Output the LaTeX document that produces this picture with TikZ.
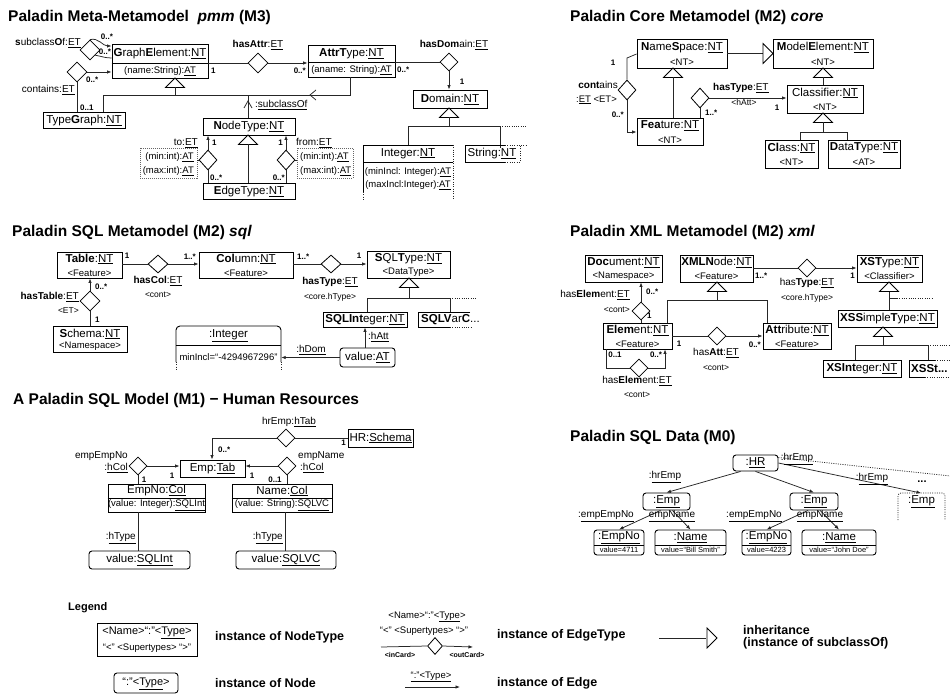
\documentclass[tikz,border=0pt]{standalone}
\usepackage{fontspec}
\setmainfont{Liberation Sans}
\usetikzlibrary{arrows.meta,shapes.geometric}
\newcommand\fsz[1]{\fontsize{#1}{#1}\selectfont}
\newcommand\un[1]{\underline{#1}}
\tikzset{
  bx/.style={draw=black, line width=0.9pt, inner sep=0pt},
  rbx/.style={bx, rounded corners=3pt},
  dbx/.style={draw=black!60, line width=0.6pt, dash pattern=on 1pt off 1pt, inner sep=0pt},
  tm/.style={inner sep=0pt, font=\fsz{11.5}},
  ta/.style={inner sep=0pt, font=\fsz{9.5}},
  tl/.style={inner sep=0pt, font=\fsz{10}},
  ts/.style={inner sep=0pt, font=\fsz{8.5}},
  tc/.style={inner sep=0pt, font=\bfseries\fsz{8}},
  ttl/.style={inner sep=0pt, anchor=west, font=\bfseries\fsz{15.5}},
  tlg/.style={inner sep=0pt, anchor=west, font=\bfseries\fsz{12.5}},
  dia/.style={shape=diamond, draw=black, fill=white, line width=0.8pt, inner sep=0pt, minimum width=20, minimum height=20},
  ln/.style={draw=black!85, line width=0.75pt},
  arr/.style={ln, -{Latex[length=4.5pt,width=3.5pt]}},
  dln/.style={draw=black!85, line width=0.75pt, dash pattern=on 1pt off 1.3pt},
  tri/.style={draw=black, line width=0.8pt, fill=white},
}
\newcommand\boxat[6][bx]{\node[#1, minimum width={#5-#3}, minimum height={#6-#4}] (#2) at ({(#3+#5)/2},{(#4+#6)/2}) {};}
\newcommand\uptri[2]{\draw[tri] (#1,#2) -- ++(-9.5,9.5) -- ++(19,0) -- cycle;}
\newcommand\rtri[2]{\draw[tri] (#1,#2) -- ++(-10,-10) -- ++(0,20) -- cycle;}
\begin{document}
\begin{tikzpicture}[x=1pt,y=-1pt]
\useasboundingbox (0,0) rectangle (950,695);
% ================= M3 =================
\node[ttl] (t3) at (8,17) {Paladin Meta-Metamodel\ \ \textit{pmm} (M3)};
\boxat{ge}{112}{44}{208}{78}
\draw[bx] (ge.west |- 0,63) -- (ge.east |- 0,63);
\node[tm] (geT) at (160,53.5) {\textbf{G}raph\textbf{E}lement:\un{NT}};
\node[ta] (geA) at (160,71) {(name:String):\un{AT}};
\node[dia] (sc) at (90,50) {};
\node[tl,anchor=east] (scL) at (81,43) {\textbf{s}ubclass\textbf{O}f:\un{ET}};
\node[tc] (sc1) at (107,37) {0..*};
\node[tc] (sc2) at (105,52) {0..*};
\draw[arr] (sc.north) to[out=15,in=180] (ge.west |- 0,46);
\draw[ln] (sc.south east) to[out=-10,in=180] (ge.west |- 0,58);
\node[dia] (ct) at (77,72) {};
\node[tc,anchor=west] (ct1) at (86,80) {0..*};
\node[tl,anchor=east] (ctL) at (75,90) {contains:\un{ET}};
\node[tc,anchor=west] (ct2) at (80,108) {0..1};
\draw[arr] (ct.east) -- (ge.west |- ct.east);
\boxat{tg}{43}{112}{125}{128}
\node[tm] (tgT) at (84,120.5) {Type\textbf{G}raph:\un{NT}};
\draw[ln] (ct.south) -- (tg.north -| ct.south);
\boxat{at}{308}{45}{395}{77}
\draw[bx] (at.west |- 0,62) -- (at.east |- 0,62);
\node[tm] (atT) at (351.5,54) {\textbf{AttrT}ype:\un{NT}};
\node[ta] (atA) at (351.5,70) {(aname: String):\un{AT}};
\uptri{175}{78}
\draw[ln] (175,87.5) -- (175,95);
\draw[ln] (tg.north -| 103,0) -- (103,95) -- (350,95) -- (at.south -| 350,0);
\draw[ln] (316,90) -- (310,95) -- (316,100);
\node[tc,anchor=east] (at1) at (306,71) {0..*};
\node[tc,anchor=west] (ge1) at (211,71) {1};
\node[dia] (ha) at (258,63) {};
\node[tl] (haL) at (258,45) {\textbf{hasAttr}:\un{ET}};
\draw[ln] (ge.east |- ha.west) -- (ha.west);
\draw[arr] (ha.east) -- (at.west |- ha.east);
\node[tc,anchor=west] (at2) at (397,70) {0..*};
\node[dia,minimum width=18,minimum height=18] (hd) at (449,62) {};
\node[tl] (hdL) at (454,45) {\textbf{hasDom}ain:\un{ET}};
\boxat{dm}{413}{90}{487}{108}
\node[tm] (dmT) at (450,99.5) {\textbf{D}omain:\un{NT}};
\node[tc] (hd1) at (462,82) {1};
\draw[ln] (at.east |- hd.west) -- (hd.west);
\draw[arr] (hd.south) -- (hd.south |- dm.north);
\uptri{449}{108}
\draw[ln] (449,117.5) -- (449,126);
\node[tm, minimum width=90, minimum height=17] (int) at (408,153.5) {Integer:\un{NT}};
\node[tm] (str) at (492,153.5) {String:\un{NT}};
\draw[ln] (int.north -| 408,0) -- (408,126) -- (500,126) -- (str.north -| 500,0);
\draw[dln] (500,126) -- (527,126);
\draw[bx] (363,192) -- (363,145) -- (453,145);
\draw[bx] (363,162) -- (453,162);
\draw[dln] (363,192) -- (363,199);
\draw[dln] (453,145) -- (453,199);
\node[ta] (intA) at (408,172) {(minIncl: Integer):\un{AT}};
\node[ta] (intB) at (408,185) {(maxIncl:Integer):\un{AT}};
\draw[bx] (505,145) -- (465,145) -- (465,162) -- (505,162);
\draw[dln] (505,145) -- (527,145);
\draw[dln] (505,162) -- (520,162) -- (520,145);
% NodeType / EdgeType
\boxat{nt}{203}{118}{295}{135}
\node[tm] (ntT) at (249,127) {\textbf{N}odeType:\un{NT}};
\boxat{et}{203}{183}{295}{199}
\node[tm] (etT) at (249,191.5) {\textbf{E}dgeType:\un{NT}};
\uptri{248}{135}
\draw[ln] (248,144.5) -- (et.north -| 248,0);
\draw[ln] (nt.north -| 248,0) -- (248,95);
\draw[ln] (244,108) -- (248,101) -- (252,108);
\node[tl,anchor=west] (scI) at (255,105) {:\un{subclassOf}};
\node[dia,minimum width=18] (to) at (208,160) {};
\draw[arr] (to.north) -- (to.north |- nt.south);
\draw[ln] (to.south) -- (to.south |- et.north);
\node[tc,anchor=west] (to1) at (212,143) {1};
\node[tl,anchor=east] (toL) at (198,143) {to:\un{ET}};
\node[tc,anchor=west] (to2) at (210,178) {0..*};
\boxat[dbx]{toA}{140}{148}{197}{178}
\node[ta,anchor=east] (toA1) at (194,157.5) {(min:int):\un{AT}};
\node[ta,anchor=east] (toA2) at (194,171) {(max:int):\un{AT}};
\draw[ln] (toA.east |- to.west) -- (to.west);
\node[dia,minimum width=18] (fr) at (286,160) {};
\draw[arr] (fr.north) -- (fr.north |- nt.south);
\draw[ln] (fr.south) -- (fr.south |- et.north);
\node[tc,anchor=east] (fr1) at (283,143) {1};
\node[tl,anchor=west] (frL) at (296,143) {from:\un{ET}};
\node[tc,anchor=east] (fr2) at (285,178) {0..*};
\boxat[dbx]{frA}{297}{148}{353}{178}
\node[ta,anchor=west] (frA1) at (300,157.5) {(min:int):\un{AT}};
\node[ta,anchor=west] (frA2) at (300,171) {(max:int):\un{AT}};
\draw[ln] (fr.east) -- (frA.west |- fr.east);
% ================= core =================
\node[ttl] (tcore) at (570,17) {Paladin Core Metamodel (M2) \textit{core}};
\boxat{ns}{637}{39}{727}{68}
\node[tm] (nsT) at (682,47.5) {\textbf{N}ame\textbf{S}pace:\un{NT}};
\node[ta] (nsS) at (682,62) {<NT>};
\boxat{me}{773}{39}{873}{68}
\node[tm] (meT) at (823,47.5) {\textbf{M}odel\textbf{E}lement:\un{NT}};
\node[ta] (meS) at (823,62) {<NT>};
\boxat{cl}{787}{85}{863}{113}
\node[tm] (clT) at (825,93) {Classifier:\un{NT}};
\node[ta] (clS) at (825,107.5) {<NT>};
\boxat{cs}{765}{140}{818}{168}
\node[tm] (csT) at (791.5,148) {\textbf{Cl}ass:\un{NT}};
\node[ta] (csS) at (791.5,162.5) {<NT>};
\boxat{dt}{828}{140}{900}{168}
\node[tm] (dtT) at (864,148) {\textbf{D}ata\textbf{T}ype:\un{NT}};
\node[ta] (dtS) at (864,162.5) {<AT>};
\boxat{ft}{637}{118}{703}{145}
\node[tm] (ftT) at (670,126) {\textbf{Fea}ture:\un{NT}};
\node[ta] (ftS) at (670,140) {<NT>};
\draw[ln] (ns.east) -- (763,53.5);
\rtri{773}{53.5}
\uptri{823}{68}
\draw[ln] (823,77.5) -- (cl.north -| 823,0);
\uptri{823}{113}
\draw[ln] (823,122.5) -- (823,132);
\draw[ln] (cs.north -| 800,0) |- (847,132) -- (dt.north -| 847,0);
\uptri{673}{68}
\draw[ln] (673,77.5) -- (ft.north -| 673,0);
\node[dia,minimum width=18] (cn) at (627,90) {};
\draw[ln] (cn.north) -- (627,58) -- (ns.west |- 0,54);
\draw[arr] (cn.south) |- (ft.west |- 0,132);
\node[tc] (cn1) at (613,63) {1};
\node[tc,anchor=east] (cn2) at (624,115) {0..*};
\node[tl,anchor=east] (cnL) at (618,85) {\textbf{cont}ains};
\node[ta,anchor=east] (cnL2) at (617,100) {:\un{ET} <ET>};
\node[dia,minimum width=18] (ht) at (700,98) {};
\draw[ln] (ht.south) -- (ft.north -| ht.south);
\draw[arr] (ht.east) -- (cl.west |- ht.east);
\node[tc,anchor=west] (ht1) at (705,113) {1..*};
\node[tl,anchor=west] (htL) at (713,88) {\textbf{hasType}:\un{ET}};
\node[ts] (htS) at (744,102) {<hAtt>};
\node[tc] (ht2) at (777,108) {1};
% ================= SQL =================
\node[ttl] (tsql) at (12,232) {Paladin SQL Metamodel (M2) \textit{sql}};
\boxat{tb}{57}{252}{122}{278}
\node[tm] (tbT) at (89.5,259) {\textbf{Table}:\un{NT}};
\node[ta] (tbS) at (89.5,273) {<Feature>};
\boxat{co}{199}{252}{293}{278}
\node[tm] (coT) at (246,259) {\textbf{Col}umn:\un{NT}};
\node[ta] (coS) at (246,273) {<Feature>};
\boxat{sq}{367}{251}{450}{278}
\node[tm] (sqT) at (408.5,258.5) {\textbf{S}QL\textbf{T}ype:\un{NT}};
\node[ta] (sqS) at (408.5,272.5) {<DataType>};
\node[dia,minimum height=18] (hc) at (158,264) {};
\draw[ln] (tb.east |- hc.west) -- (hc.west);
\draw[arr] (hc.east) -- (co.west |- hc.east);
\node[tc] (hc1) at (127,256) {1};
\node[tc,anchor=east] (hc2) at (196,257) {1..*};
\node[tl] (hcL) at (158,281) {\textbf{hasCol}:\un{ET}};
\node[ts] (hcS) at (158,295) {<cont>};
\node[dia,minimum height=18] (hy) at (331,264) {};
\draw[ln] (co.east |- hy.west) -- (hy.west);
\draw[arr] (hy.east) -- (sq.west |- hy.east);
\node[tc,anchor=west] (hy1) at (297,257) {1..*};
\node[tc] (hy2) at (359,256) {1};
\node[tl] (hyL) at (330,282) {\textbf{hasType}:\un{ET}};
\node[ts] (hyS) at (330,297) {<core.hType>};
\boxat{si}{323}{312}{407}{327}
\node[tm] (siT) at (365,319.5) {\textbf{SQLInt}eger:\un{NT}};
\node[tm,anchor=west] (sv) at (421,319.5) {\textbf{SQLV}ar\textbf{C}...};
\draw[bx] (470,312) -- (418,312) -- (418,327) -- (450,327);
\draw[dln] (450,327) -- (472,327);
\uptri{409}{278}
\draw[ln] (409,287.5) -- (409,298);
\draw[ln] (si.north -| 367,0) |- (450,298) -- (450,312);
\draw[dln] (450,298) -- (476,298);
\boxat[rbx]{va}{340}{348}{395}{367}
\node[tm] (vaT) at (367.5,357.5) {value:\un{AT}};
\draw[arr] (va.north -| 365,0) -- (si.south -| 365,0);
\node[tl,anchor=west] (vaL) at (368,337) {:\un{hAtt}};
\node[inner sep=0, minimum width=105, minimum height=44] (igb) at (228.5,348) {};
\draw[bx,rounded corners=4pt] (176,362) -- (176,326) -- (281,326) -- (281,362);
\draw[bx] (176,345) -- (281,345);
\draw[dln] (176,362) -- (176,371);
\draw[dln] (281,362) -- (281,371);
\node[tm] (igT) at (228.5,336) {:\un{Integer}};
\node[ta] (igA) at (228.5,357) {minIncl=“-4294967296”};
\draw[arr] (va.west) -- (igb.east |- va.west);
\node[tl] (vaD) at (311,350) {:\un{hDom}};
\boxat{sh}{53}{326}{127}{352}
\node[tm] (shT) at (90,334) {\textbf{S}chema:\un{NT}};
\node[ta] (shS) at (90,346.5) {<Namespace>};
\node[dia] (hb) at (90,301) {};
\draw[arr] (hb.north) -- (tb.south -| hb.north);
\draw[ln] (hb.south) -- (sh.north -| hb.south);
\node[tc,anchor=west] (hb1) at (95,287) {0..*};
\node[tc,anchor=west] (hb2) at (95,320) {1};
\node[tl,anchor=east] (hbL) at (79,297) {\textbf{hasTable}:\un{ET}};
\node[ts,anchor=east] (hbS) at (79,311) {<ET>};
% ================= XML =================
\node[ttl] (txml) at (570,232) {Paladin XML Metamodel (M2) \textit{xml}};
\boxat{dc}{585}{255}{662}{282}
\node[tm] (dcT) at (623.5,262.5) {\textbf{Doc}ument:\un{NT}};
\node[ta] (dcS) at (623.5,276.5) {<Namespace>};
\boxat{xn}{680}{255}{753}{282}
\node[tm] (xnT) at (716.5,262.5) {\textbf{XMLN}ode:\un{NT}};
\node[ta] (xnS) at (716.5,276.5) {<Feature>};
\boxat{xs}{857}{255}{922}{282}
\node[tm] (xsT) at (889.5,262.5) {\textbf{XST}ype:\un{NT}};
\node[ta] (xsS) at (889.5,276.5) {<Classifier>};
\node[dia,minimum width=18,minimum height=18] (xh) at (807,268) {};
\draw[ln] (xn.east |- xh.west) -- (xh.west);
\draw[arr] (xh.east) -- (xs.west |- xh.east);
\node[tc,anchor=west] (xh1) at (755,276) {1..*};
\node[tc,anchor=east] (xh2) at (855,276) {1};
\node[tl] (xhL) at (807,283) {has\textbf{Type}:\un{ET}};
\node[ts] (xhS) at (807,298) {<core.hType>};
\boxat{xss}{838}{310}{937}{327}
\node[tm] (xssT) at (887.5,318.5) {\textbf{XSS}imple\textbf{T}ype:\un{NT}};
\uptri{889}{282}
\draw[ln] (889,291.5) -- (xss.north -| 889,0);
\draw[ln] (889,298) -- (897,298);
\draw[dln] (897,298) -- (933,298);
\boxat{xi}{823}{360}{901}{377}
\node[tm] (xiT) at (862,368.5) {\textbf{XSInt}eger:\un{NT}};
\uptri{883}{327}
\draw[ln] (883,336.5) -- (883,345);
\draw[ln] (xi.north -| 855,0) |- (928,345) -- (928,360);
\draw[dln] (928,345) -- (950,345);
\draw[bx] (935,360) -- (909,360) -- (909,377) -- (925,377);
\draw[dln] (935,360) -- (950,360);
\draw[dln] (925,377) -- (950,377);
\node[tm,anchor=west] (xst) at (911,368.5) {\textbf{XSSt...}};
\boxat{el}{603}{323}{672}{349}
\node[tm] (elT) at (637.5,330.5) {\textbf{Elem}ent:\un{NT}};
\node[ta] (elS) at (637.5,344) {<Feature>};
\boxat{ab}{763}{323}{831}{349}
\node[tm] (abT) at (797,330.5) {\textbf{Att}ribute:\un{NT}};
\node[ta] (abS) at (797,344) {<Feature>};
\node[dia,minimum width=18,minimum height=18] (xa) at (717,336) {};
\draw[ln] (el.east |- xa.west) -- (xa.west);
\draw[arr] (xa.east) -- (ab.west |- xa.east);
\node[tc] (xa1) at (679,344) {1};
\node[tc,anchor=east] (xa2) at (761,345) {0..*};
\node[tl] (xaL) at (716,353) {has\textbf{Att}:\un{ET}};
\node[ts] (xaS) at (716,368) {<cont>};
\node[dia,minimum width=18,minimum height=18] (xe) at (639,368) {};
\draw[ln] (el.south -| 606,0) |- (xe.west);
\draw[arr] (xe.east) -| (el.south -| 665,0);
\node[tc] (xe1) at (615,355) {0..1};
\node[tc] (xe2) at (656,355) {0..*};
\node[tl] (xeL) at (637,381) {has\textbf{Elem}ent:\un{ET}};
\node[ts] (xeS) at (637,395) {<cont>};
\node[dia,minimum width=18,minimum height=18] (xd) at (641,311) {};
\draw[arr] (xd.north) -- (dc.south -| xd.north);
\draw[ln] (xd.south) -- (el.north -| xd.south);
\node[tc,anchor=west] (xd1) at (646,292) {0..*};
\node[tc,anchor=west] (xd2) at (647,316) {1};
\node[tl,anchor=east] (xdL) at (630,295) {has\textbf{Elem}ent:\un{ET}};
\node[ts,anchor=east] (xdS) at (630,310) {<cont>};
\uptri{717}{282}
\draw[ln] (717,291.5) -- (717,300);
\draw[ln] (el.north -| 667,0) |- (767,300) -- (ab.north -| 767,0);
% ================= M1 =================
\node[ttl] (tm1) at (13,400) {A Paladin SQL Model (M1) − Human Resources};
\node[tl] (hrL) at (289,422) {hrEmp:\un{hTab}};
\node[dia,minimum width=18,minimum height=18] (hr) at (286,438) {};
\boxat{hrs}{348}{429}{413}{447}
\node[tm] (hrsT) at (380.5,438) {HR:\un{Schema}};
\draw[ln] (hr.east) -- (hrs.west |- hr.east);
\node[tc,anchor=east] (hr1) at (346,443) {1};
\boxat{ep}{180}{460}{245}{477}
\node[tm] (epT) at (212.5,468.5) {Emp:\un{Tab}};
\draw[arr] (hr.west) -| (ep.north -| 212,0);
\node[tc,anchor=west] (hr2) at (218,450) {0..*};
\boxat{enc}{108}{484}{205}{512}
\draw[bx] (enc.west |- 0,498) -- (enc.east |- 0,498);
\node[tm] (encT) at (156.5,491) {EmpNo:\un{Col}};
\node[ta] (encA) at (156.5,505) {(value: Integer):\un{SQLInt}};
\boxat{nmc}{232}{484}{332}{512}
\draw[bx] (nmc.west |- 0,498) -- (nmc.east |- 0,498);
\node[tm] (nmcT) at (282,491) {Name:\un{Col}};
\node[ta] (nmcA) at (282,505) {(value: String):\un{SQLVC}};
\node[dia,minimum width=18,minimum height=18] (ee) at (138,466) {};
\draw[arr] (ee.east) -- (ep.west |- ee.east);
\draw[ln] (ee.south) -- (enc.north -| ee.south);
\node[tl,anchor=east] (eeL) at (128,456) {empEmpNo};
\node[tl,anchor=east] (eeL2) at (128,468) {:\un{hCol}};
\node[tc] (ee1) at (172,476) {1};
\node[tc] (ee2) at (144,480) {1};
\node[dia,minimum width=18,minimum height=18] (en) at (287,466) {};
\draw[arr] (en.west) -- (ep.east |- en.west);
\draw[ln] (en.south) -- (nmc.north -| en.south);
\node[tl,anchor=west] (enL) at (298,456) {empName};
\node[tl,anchor=west] (enL2) at (300,468) {:\un{hCol}};
\node[tc] (en1) at (252,476) {1};
\node[tc] (en2) at (275,480) {0..1};
\boxat[rbx]{vi}{89}{551}{190}{569}
\node[tm] (viT) at (139.5,560) {value:\un{SQLInt}};
\boxat[rbx]{vv}{236}{551}{336}{569}
\node[tm] (vvT) at (286,560) {value:\un{SQLVC}};
\draw[ln] (vi.north -| 138,0) -- (enc.south -| 138,0);
\draw[ln] (vv.north -| 285,0) -- (nmc.south -| 285,0);
\node[tl,anchor=east] (viL) at (136,538) {:\un{hType}};
\node[tl,anchor=east] (vvL) at (283,538) {:\un{hType}};
% ================= M0 =================
\node[ttl] (tm0) at (570,437) {Paladin SQL Data (M0)};
\boxat[rbx]{hr0}{733}{455}{778}{471}
\node[tm] (hr0T) at (755.5,463) {:\un{HR}};
\boxat[rbx]{e1}{643}{493}{690}{510}
\node[tm] (e1T) at (666.5,501.5) {:\un{Emp}};
\boxat[rbx]{e2}{790}{493}{838}{510}
\node[tm] (e2T) at (814,501.5) {:\un{Emp}};
\draw[dln,rounded corners=3pt] (898,520) -- (898,493) -- (945,493) -- (945,520);
\node[tm] (e3T) at (921.5,501.5) {:\un{Emp}};
\draw[arr] (hr0.south west) ++(8,0) -- (e1.north);
\draw[arr] (hr0.south) -- (e2.north);
\draw[arr] (hr0.east) -- (921,493);
\draw[dln] (hr0.north east) ++(0,3) -- (950,476);
\node[tl] (l1) at (665,477) {:\un{hrEmp}};
\node[tl] (l2) at (797,459) {:\un{hrEmp}};
\node[tl] (l3) at (872,479) {:\un{hrEmp}};
\node[tc,font=\bfseries\fsz{11}] (dots) at (922,482) {...};
\boxat[rbx]{n1}{594}{530}{644}{555}
\boxat[rbx]{n2}{655}{530}{726}{555}
\boxat[rbx]{n3}{742}{530}{791}{555}
\boxat[rbx]{n4}{802}{530}{876}{555}
\foreach \a/\b in {594/644,655/726,742/791,802/876}{\draw[bx] (\a,545) -- (\b,545);}
\node[tm] (n1T) at (619,538) {:\un{EmpNo}};
\node[tm] (n2T) at (690.5,538) {:\un{Name}};
\node[tm] (n3T) at (766.5,538) {:\un{EmpNo}};
\node[tm] (n4T) at (839,538) {:\un{Name}};
\node[ts,font=\fsz{7.5}] (n1A) at (619,550) {value=4711};
\node[ts,font=\fsz{7.5}] (n2A) at (690.5,550) {value=“Bill Smith”};
\node[ts,font=\fsz{7.5}] (n3A) at (766.5,550) {value=4223};
\node[ts,font=\fsz{7.5}] (n4A) at (839,550) {value=“John Doe”};
\draw[arr] (e1.south) ++(-6,0) -- (n1.north);
\draw[arr] (e1.south) ++(6,0) -- (n2.north);
\draw[arr] (e2.south) ++(-6,0) -- (n3.north);
\draw[arr] (e2.south) ++(6,0) -- (n4.north);
\node[tl] (m1) at (606,516) {:\un{empEmpNo}};
\node[tl] (m2) at (672,516) {\un{empName}};
\node[tl] (m3) at (754,516) {:\un{empEmpNo}};
\node[tl] (m4) at (820,516) {\un{empName}};
% ================= Legend =================
\node[inner sep=0, anchor=west, font=\bfseries\fsz{11}] (lg) at (68,608) {Legend};
\boxat{lg1}{97}{623}{197}{656}
\node[tl,font=\fsz{11}] (lg1a) at (147,633) {<Name>“:”<\un{Type}>};
\node[ta] (lg1b) at (147,648) {“<” <Supertypes> “>”};
\node[tlg] (lg1L) at (215,637) {instance of NodeType};
\boxat[rbx]{lg2}{114}{673}{178}{693}
\node[tl,font=\fsz{11}] (lg2a) at (146,684) {“:”<\un{Type}>};
\node[tlg] (lg2L) at (215,683) {instance of Node};
\node[ta] (lg3a) at (427,617) {<Name>“:”<\un{Type}>};
\node[ta] (lg3b) at (424,631) {“<” <Supertypes> “>”};
\node[dia,minimum width=15,minimum height=17] (lg3d) at (435,646) {};
\coordinate (lg3s) at (381,647);
\coordinate (lg3e) at (473,647);
\draw[ln] (lg3s) -- (lg3d.west);
\draw[arr] (lg3d.east) -- (lg3e);
\node[tc,font=\bfseries\fsz{7}] (lg3i) at (400,655) {<inCard>};
\node[tc,font=\bfseries\fsz{7}] (lg3o) at (467,655) {<outCard>};
\node[tlg] (lg3L) at (497,635) {instance of EdgeType};
\coordinate (lg4s) at (659,638);
\draw[ln] (lg4s) -- (706,638);
\rtri{717}{638}
\node[tlg] (lg4L) at (743,630) {inheritance};
\node[tlg] (lg4L2) at (743,643) {(instance of subclassOf)};
\node[ta] (lg5a) at (431,677) {\un{“:”<Type>}};
\coordinate (lg5s) at (405,687);
\coordinate (lg5e) at (460,687);
\draw[arr] (lg5s) -- (lg5e);
\node[tlg] (lg5L) at (497,683) {instance of Edge};
\end{tikzpicture}
\end{document}
